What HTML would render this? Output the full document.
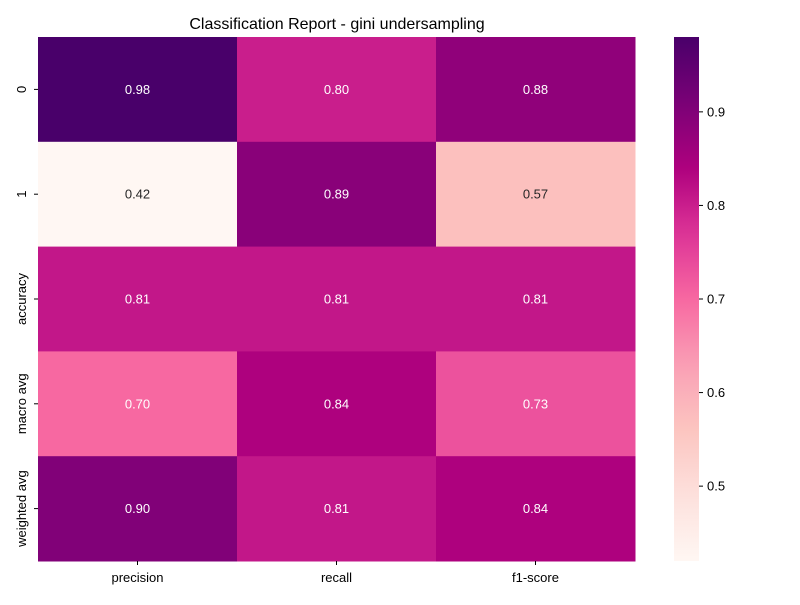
<!DOCTYPE html>
<html><head><meta charset="utf-8"><style>
body{margin:0;background:#fff;font-family:"Liberation Sans","DejaVu Sans",sans-serif;}
</style></head><body>
<svg id="chart" width="800" height="600" xmlns="http://www.w3.org/2000/svg">
<text x="337" y="29" font-size="16" text-anchor="middle">Classification Report - gini undersampling</text>
<g id="cells"></g><g id="xlabels"></g><g id="ylabels"></g>
<defs><linearGradient id="cbgrad" x1="0" y1="1" x2="0" y2="0"></linearGradient></defs>
<rect x="674" y="37" width="25" height="524" fill="url(#cbgrad)"/>
<g id="cbticks"></g>
</svg>
<script>
const rowLabels=["0","1","accuracy","macro avg","weighted avg"];
const colLabels=["precision","recall","f1-score"];
const precision=[0.98,0.42,0.81,0.70,0.90];
const recall=[0.80,0.89,0.81,0.84,0.81];
const f1score=[0.88,0.57,0.81,0.73,0.84];
const cbTicks=[0.5,0.6,0.7,0.8,0.9];
const vmin=0.42,vmax=0.98;
const series=[precision,recall,f1score];
const stops=["#fff7f3","#fde0dd","#fcc5c0","#fa9fb5","#f768a1","#dd3497","#ae017e","#7a0177","#49006a"];
const X0=38,X1=635,Y0=37,Y1=561;
const cw=(X1-X0)/colLabels.length, rh=(Y1-Y0)/rowLabels.length;
const NS="http://www.w3.org/2000/svg";
function hex(h){return [1,3,5].map(i=>parseInt(h.substr(i,2),16));}
function cmap(t){t=Math.max(0,Math.min(1,t));const p=t*(stops.length-1);const i=Math.min(Math.floor(p),stops.length-2);const f=p-i;const a=hex(stops[i]),b=hex(stops[i+1]);return a.map((v,k)=>Math.round(v+(b[k]-v)*f));}
function lum(c){const l=c.map(v=>{v/=255;return v<=0.03928?v/12.92:Math.pow((v+0.055)/1.055,2.4)});return 0.2126*l[0]+0.7152*l[1]+0.0722*l[2];}
function cy(v){return Y1-(v-vmin)/(vmax-vmin)*(Y1-Y0);}
function el(tag,attrs,parent,txt){const e=document.createElementNS(NS,tag);for(const k in attrs)e.setAttribute(k,attrs[k]);if(txt!==undefined)e.textContent=txt;parent.appendChild(e);return e;}
const cells=document.getElementById('cells');
series.forEach((s,ci)=>{s.forEach((v,ri)=>{
 const c=cmap((v-vmin)/(vmax-vmin));
 const r=el('rect',{x:X0+ci*cw,y:Y0+ri*rh,width:cw+0.5,height:rh+0.5,fill:`rgb(${c})`},cells);
 
 
 const t=el('text',{x:X0+(ci+0.5)*cw,y:Y0+(ri+0.5)*rh+4.5,'font-size':13,'text-anchor':'middle',fill:lum(c)>0.408?'#262626':'#fff'},cells,v.toFixed(2));
 
 
});});
const xl=document.getElementById('xlabels');
colLabels.forEach((l,i)=>{const x=X0+(i+0.5)*cw;
 el('line',{x1:x,x2:x,y1:Y1,y2:Y1+4,stroke:'#000'},xl);
 const t=el('text',{x:x,y:Y1+21,'font-size':13,'text-anchor':'middle'},xl,l);
 
 });
const yl=document.getElementById('ylabels');
rowLabels.forEach((l,i)=>{const y=Y0+(i+0.5)*rh;
 el('line',{x1:X0-4,x2:X0,y1:y,y2:y,stroke:'#000'},yl);
 const t=el('text',{x:0,y:0,'font-size':13,'text-anchor':'middle',transform:`translate(26,${y}) rotate(-90)`},yl,l);
 
 });
const g=document.getElementById('cbgrad');
for(let i=0;i<=20;i++){el('stop',{offset:(i/20),'stop-color':`rgb(${cmap(i/20)})`},g);}
const cb=document.getElementById('cbticks');
cbTicks.forEach(v=>{const y=cy(v);
 el('line',{x1:699,x2:703,y1:y,y2:y,stroke:'#000'},cb);
 const t=el('text',{x:707,y:y+4.5,'font-size':13},cb,v.toFixed(1));
 
 });
</script>
</body></html>
